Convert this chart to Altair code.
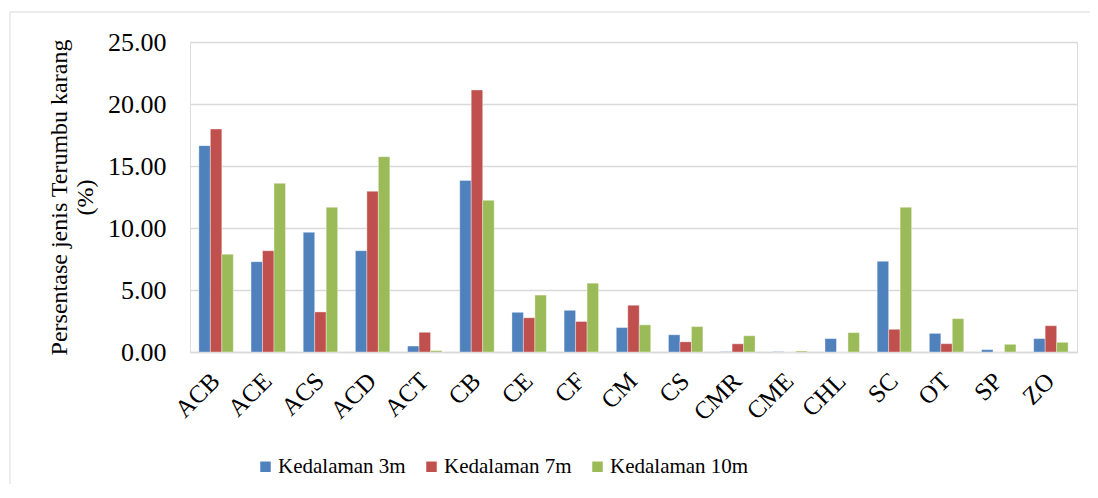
import altair as alt
import pandas as pd

categories = ["ACB", "ACE", "ACS", "ACD", "ACT", "CB", "CE", "CF", "CM", "CS",
              "CMR", "CME", "CHL", "SC", "OT", "SP", "ZO"]
series = ["Kedalaman 3m", "Kedalaman 7m", "Kedalaman 10m"]
depth3 = [16.64, 7.28, 9.65, 8.17, 0.48, 13.84, 3.20, 3.36, 1.97, 1.39,
          0.03, 0.03, 1.08, 7.31, 1.50, 0.19, 1.08]
depth7 = [17.98, 8.17, 3.23, 12.96, 1.59, 21.13, 2.76, 2.46, 3.77, 0.82,
          0.66, 0.00, 0.00, 1.83, 0.67, 0.00, 2.12]
depth10 = [7.88, 13.60, 11.67, 15.75, 0.11, 12.23, 4.59, 5.55, 2.19, 2.05,
           1.31, 0.08, 1.56, 11.67, 2.69, 0.62, 0.78]
colors = ["#4F81BD", "#C0504D", "#9BBB59"]

rows = []
for vals, s in zip([depth3, depth7, depth10], series):
    for c, v in zip(categories, vals):
        rows.append({"kategori": c, "seri": s, "nilai": v})
df = pd.DataFrame(rows)

FONT = "Liberation Serif"

bars = alt.Chart(df).mark_bar(stroke="white", strokeWidth=0.6, strokeOpacity=0.6).encode(
    x=alt.X("kategori:N", sort=categories,
            scale=alt.Scale(paddingInner=0.34, paddingOuter=0.17),
            axis=alt.Axis(title=None, labelAngle=-45, labelFontSize=25, labelFont=FONT,
                          labelColor="black", ticks=False, domainColor="#d9d9d9",
                          domainWidth=1.5, labelPadding=16, labelOffset=-9, grid=False)),
    xOffset=alt.XOffset("seri:N", sort=series),
    y=alt.Y("nilai:Q", scale=alt.Scale(domain=[0, 25]),
            axis=alt.Axis(title=["Persentase jenis  Terumbu karang", "(%)"],
                          values=[0, 5, 10, 15, 20, 25], format=".2f",
                          labelFontSize=26, labelFont=FONT, labelColor="black",
                          titleFont=FONT, titleFontSize=24, titleFontWeight="normal",
                          titleColor="black", titlePadding=10, titleLineHeight=26,
                          ticks=False, domain=False, labelPadding=24,
                          gridColor="#d9d9d9", gridWidth=1.5)),
    color=alt.Color("seri:N", sort=series,
                    scale=alt.Scale(domain=series, range=colors),
                    legend=alt.Legend(title=None, orient="none", direction="horizontal",
                                      legendX=65, legendY=414,
                                      labelFont=FONT, labelFontSize=21, labelColor="black",
                                      symbolType="square", symbolSize=110,
                                      symbolStrokeWidth=0, columnPadding=15,
                                      labelOffset=2)),
)

frame_src = pd.DataFrame({"a": [0]})
top_line = alt.Chart(frame_src).mark_rule(color="#d9d9d9", strokeWidth=1, clip=False).encode(
    x=alt.value(-180), x2=alt.value(940), y=alt.value(-30)
)
left_line = alt.Chart(frame_src).mark_rule(color="#d9d9d9", strokeWidth=1, clip=False).encode(
    x=alt.value(-180), y=alt.value(-30), y2=alt.value(480)
)

chart = alt.layer(top_line, left_line, bars).properties(
    width=887, height=310,
    autosize=alt.AutoSizeParams(type="none"),
    padding={"left": 182, "top": 34, "right": 13, "bottom": 132},
).configure_view(stroke=None).configure(
    background="white", font=FONT
).configure_legend(labelFont=FONT, labelFontSize=21, labelColor="black")

chart.save("out.html", embed_options={"renderer": "svg", "actions": False})
